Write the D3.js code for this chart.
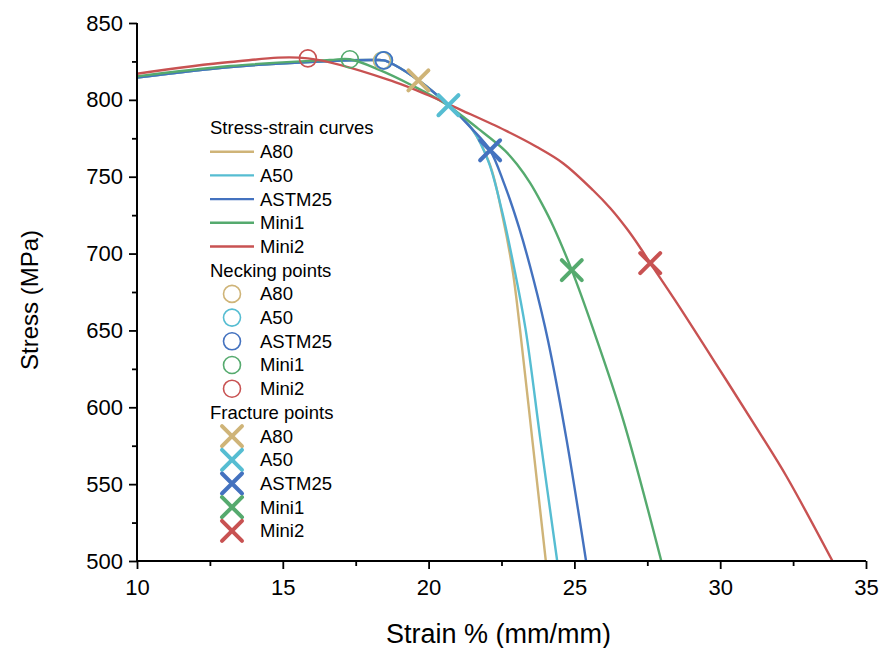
<!DOCTYPE html>
<html>
<head>
<meta charset="utf-8">
<script src="https://cdn.jsdelivr.net/npm/d3@7"></script>
<style>
  body { margin: 0; background: #fff; }
  text { font-family: Arial, "Liberation Sans", sans-serif; fill: #000; }
</style>
</head>
<body>
<div id="chart"></div>
<script>
// sample names, drawn in this order
var names = ["A80", "A50", "ASTM25", "Mini1", "Mini2"];
var colors = ["#cfb478", "#56bdd2", "#4472bf", "#55aa6e", "#c85252"];

// stress-strain curves [strain %, stress MPa]
var curveA80 = [[10, 814.5], [13.2, 821.4], [16.6, 825.3], [18.1, 825.9], [18.47, 825.7], [18.85, 822.5],
  [19.65, 812.7], [20.68, 796.5], [21.48, 781.3], [22.1, 758], [22.55, 723], [22.89, 688],
  [23.13, 651.5], [23.57, 576.7], [24.02, 500]];
var curveA50 = [[10, 814.5], [13.2, 821.4], [16.6, 825.3], [18.1, 825.9], [18.47, 825.7], [18.85, 822.5],
  [19.65, 812.7], [20.68, 796.5], [21.48, 781.3], [22.05, 760], [22.5, 729], [22.92, 692],
  [23.32, 651.5], [23.85, 576.7], [24.41, 500]];
var curveASTM25 = [[10, 814.5], [13.2, 821.4], [16.6, 825.3], [18.1, 825.9], [18.47, 825.7], [18.85, 822.5],
  [19.65, 812.7], [20.68, 796.5], [21.48, 781.3], [22.11, 767.2], [22.6, 745], [23.1, 717],
  [23.6, 683], [24.1, 643], [24.74, 578], [25.4, 500]];
var curveMini1 = [[10, 815.3], [13.2, 822], [16.6, 825.9], [17.3, 826.4], [18.33, 819.3], [19.42, 809.5],
  [20.56, 797.6], [21.7, 781.3], [22.62, 767], [23.05, 757.6], [23.48, 746], [23.87, 733],
  [24.27, 718], [24.91, 689.2], [25.64, 651], [26.67, 592], [27.98, 500]];
var curveMini2 = [[10, 817], [13.2, 824.6], [15.86, 827], [18.85, 811.6], [19.99, 803], [21.14, 793.2],
  [22.62, 780.2], [23.7, 769.5], [24.61, 758.8], [25.64, 741.2], [26.24, 729.3], [26.8, 716.1],
  [27.24, 704.3], [27.6, 693.8], [28.45, 669.7], [29.99, 624.2], [31.36, 583.2], [32.28, 554.8], [33.85, 500]];

// necking points (circles) and fracture points (crosses)
var neckStrain = [18.4, 18.45, 18.47, 17.3, 15.86];
var neckStress = [825.6, 825.7, 825.7, 826.4, 827];
var fracStrain = [19.65, 20.68, 22.11, 24.91, 27.6];
var fracStress = [812.7, 796.5, 767.2, 689.2, 693.8];

// axes
var xTicks = [10, 15, 20, 25, 30, 35];
var yTicks = [500, 550, 600, 650, 700, 750, 800, 850];

var W = 882, H = 648;
var margin = { top: 23, right: 16, bottom: 87, left: 137 },
    width = W - margin.left - margin.right,
    height = H - margin.top - margin.bottom;

window.onload = function() {

  var curves = [curveA80, curveA50, curveASTM25, curveMini1, curveMini2];

  var svg = d3.select("#chart").append("svg")
      .attr("width", W)
      .attr("height", H)
    .append("g")
      .attr("transform", "translate(" + margin.left + "," + margin.top + ")");

  var x = d3.scaleLinear().domain([10, 35]).range([0, width]);
  var y = d3.scaleLinear().domain([500, 850]).range([height, 0]);

  var line = d3.line()
      .x(d => x(d[0]))
      .y(d => y(d[1]))
      .curve(d3.curveCatmullRom.alpha(0.5));

  // curves
  svg.append("g").selectAll("path")
    .data(curves).enter().append("path")
      .attr("d", line)
      .attr("fill", "none")
      .attr("stroke", (d, i) => colors[i])
      .attr("stroke-width", 2.4);

  // necking circles
  svg.append("g").selectAll("circle")
    .data(names).enter().append("circle")
      .attr("cx", (d, i) => x(neckStrain[i]))
      .attr("cy", (d, i) => y(neckStress[i]))
      .attr("r", 8.5)
      .attr("fill", "none")
      .attr("stroke", (d, i) => colors[i])
      .attr("stroke-width", 1.6);

  function crossPath(s) {
    return "M" + (-s) + "," + (-s) + "L" + s + "," + s + "M" + (-s) + "," + s + "L" + s + "," + (-s);
  }

  // fracture crosses
  svg.append("g").selectAll("path")
    .data(names).enter().append("path")
      .attr("d", crossPath(10))
      .attr("transform", (d, i) => "translate(" + x(fracStrain[i]) + "," + y(fracStress[i]) + ")")
      .attr("fill", "none")
      .attr("stroke", (d, i) => colors[i])
      .attr("stroke-width", 4)
      .attr("stroke-linecap", "round");

  // minor + major ticks
  var xAxis = d3.axisBottom(x).tickValues(xTicks).tickSize(8).tickPadding(10).tickFormat(d3.format("d"));
  var xMinor = d3.axisBottom(x).tickValues(d3.range(12.5, 35, 5)).tickSize(5).tickFormat("");
  var yAxis = d3.axisLeft(y).tickValues(yTicks).tickSize(8).tickPadding(6).tickFormat(d3.format("d"));
  var yMinor = d3.axisLeft(y).tickValues(d3.range(525, 850, 50)).tickSize(5).tickFormat("");

  [[xMinor, true], [xAxis, true], [yMinor, false], [yAxis, false]].forEach(function(a) {
    var g = svg.append("g")
        .attr("transform", a[1] ? "translate(0," + height + ")" : null)
        .call(a[0]);
    g.selectAll("path, line").attr("stroke", "#000").attr("stroke-width", 1.8);
    g.select(".domain").attr("d", a[1] ? "M0,0H" + width : "M0,0V" + height);
    g.selectAll("text").style("font-size", "22px").attr("fill", "#000");
  });

  // axis titles
  svg.append("text")
      .attr("x", width / 2 - 3)
      .attr("y", height + 82)
      .attr("text-anchor", "middle")
      .style("font-size", "27px")
      .text("Strain % (mm/mm)");

  svg.append("text")
      .attr("transform", "translate(" + (-99) + "," + (height / 2 + 8) + ") rotate(-90)")
      .attr("text-anchor", "middle")
      .style("font-size", "24px")
      .text("Stress (MPa)");

  // legend
  var lx = 210 - margin.left, ly = 128 - margin.top, step = 23.7;
  var legend = svg.append("g").attr("class", "legend");
  var groups = ["Stress-strain curves", "Necking points", "Fracture points"];

  groups.forEach(function(title, gi) {
    var top = ly + gi * 6 * step;
    legend.append("text")
        .attr("x", lx)
        .attr("y", top)
        .attr("dy", "0.35em")
        .style("font-size", "18.5px")
        .text(title);

    var row = legend.selectAll(".row" + gi)
      .data(names).enter().append("g")
        .attr("transform", (d, i) => "translate(" + lx + "," + (top + (i + 1) * step) + ")");

    if (gi == 0) {
      row.append("line")
          .attr("x1", 0).attr("x2", 44)
          .attr("stroke", (d, i) => colors[i])
          .attr("stroke-width", 2.4);
    } else if (gi == 1) {
      row.append("circle")
          .attr("cx", 22).attr("r", 8.5)
          .attr("fill", "none")
          .attr("stroke", (d, i) => colors[i])
          .attr("stroke-width", 1.6);
    } else {
      row.append("path")
          .attr("d", crossPath(10))
          .attr("transform", "translate(22,0)")
          .attr("fill", "none")
          .attr("stroke", (d, i) => colors[i])
          .attr("stroke-width", 4)
          .attr("stroke-linecap", "round");
    }

    row.append("text")
        .attr("x", 50)
        .attr("dy", "0.35em")
        .style("font-size", "18.5px")
        .text(d => d);
  });
};
</script>
</body>
</html>
